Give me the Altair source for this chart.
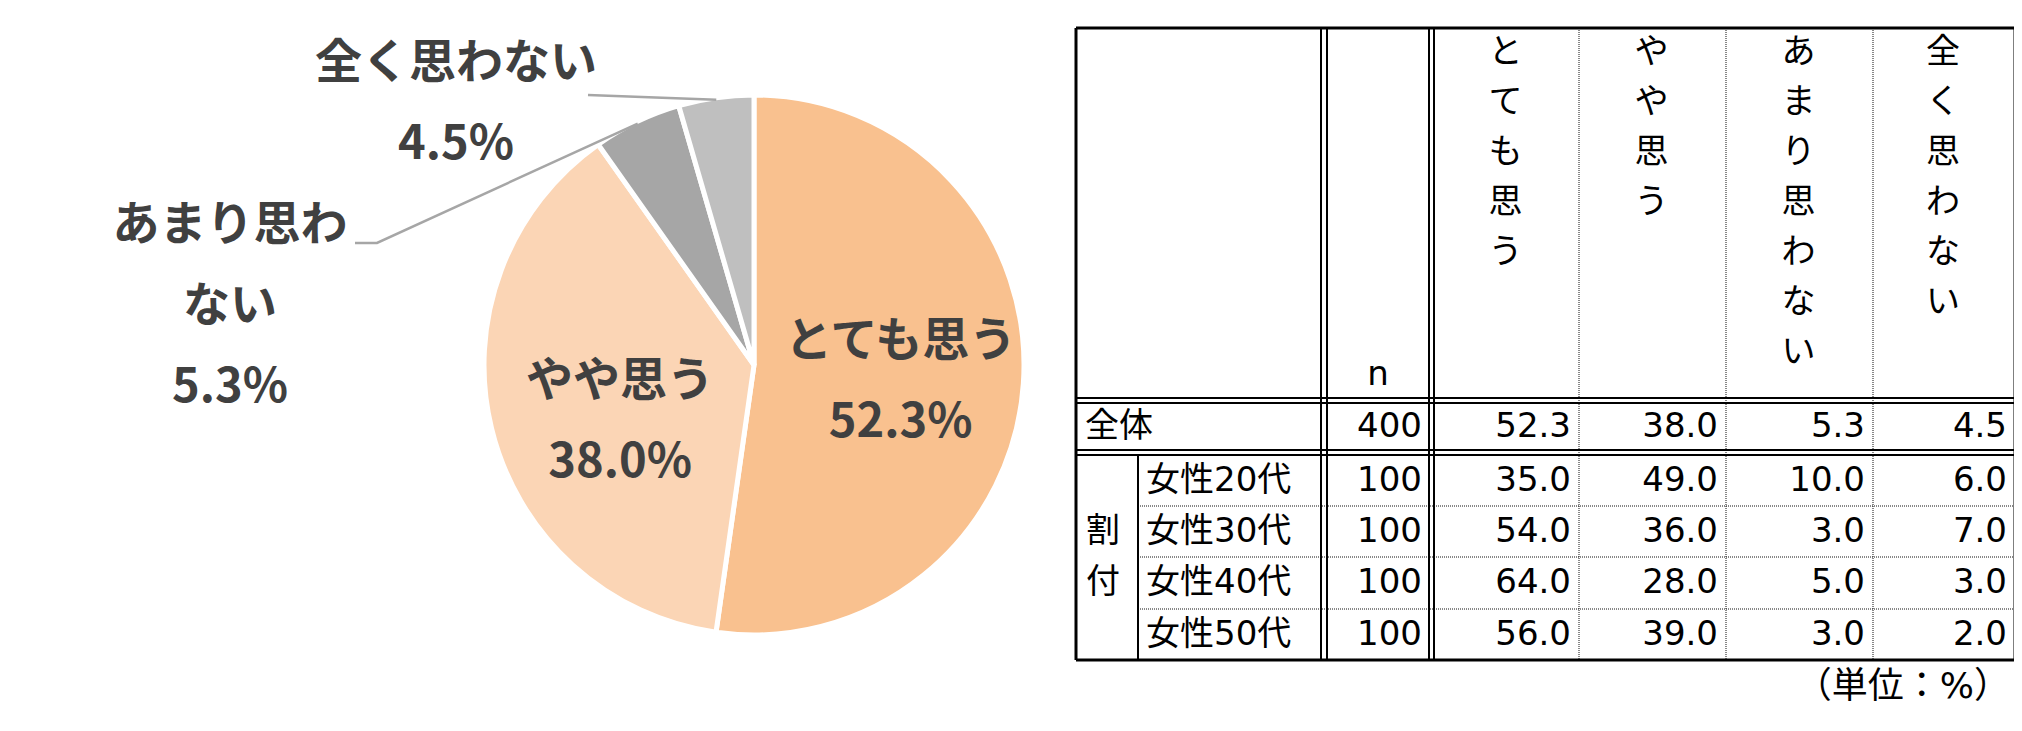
import math
import altair as alt
import pandas as pd

# ---------------- data ----------------
categories = ["とても思う", "やや思う", "あまり思わない", "全く思わない"]
row_labels = ["全体", "女性20代", "女性30代", "女性40代", "女性50代"]
n_values = [400, 100, 100, 100, 100]
totemo = [52.3, 35.0, 54.0, 64.0, 56.0]
yaya = [38.0, 49.0, 36.0, 28.0, 39.0]
amari = [5.3, 10.0, 3.0, 5.0, 3.0]
mattaku = [4.5, 6.0, 7.0, 3.0, 2.0]
group_label = "割付"
n_label = "n"
unit_label = "（単位：%）"

# ---------------- style / layout (screen pixels) ----------------
PAGE = 8
W, H = 2006, 715
CX, CY = 754, 365
R_ARC = 270
R_EDGE = 268
R_LABEL = 147
slice_colors = ["#F9C18F", "#FBD5B5", "#A6A6A6", "#BFBFBF"]
label_color = "#404040"
leader_color = "#A6A6A6"
PIE_FONT = "Noto Sans CJK JP"
TAB_FONT = "DejaVu Sans, Noto Sans CJK JP"
PIE_FS = 47
PIE_LH = 81
TAB_FS = 34

# nudges of the block centre relative to the slice mid-angle point
inside_nudge = {"とても思う": (0, 7), "やや思う": (9, 23)}
# block centres of the labels placed outside
outside_pos = {"全く思わない": (456, 104), "あまり思わない": (230, 307)}
label_wrap = {"あまり思わない": 5}
leader_start = {"全く思わない": [(588, 95)], "あまり思わない": [(355, 243), (377, 243)]}

T_L, T_R, T_T, T_B = 1076, 2015, 28, 660
COL_N = (1321, 1327)
COL_V = (1429, 1434)
GROUP_X = 1138
DOT_X = [1579, 1726, 1873]
HDR_D = (398, 403)
ALL_D = (450, 455)
GROUP_ROWS = [455, 506, 557, 609, 660]
HDR_Y0, HDR_STEP = 53, 50

xs = alt.Scale(domain=[PAGE, PAGE + W], range=[0, W], nice=False, zero=False)
ys = alt.Scale(domain=[PAGE, PAGE + H], range=[0, H], nice=False, zero=False)


def X(f="x"):
    return alt.X(f"{f}:Q", scale=xs, axis=None)


def Y(f="y"):
    return alt.Y(f"{f}:Q", scale=ys, axis=None)


def X2(f="x2"):
    return alt.X2(f"{f}:Q")


def Y2(f="y2"):
    return alt.Y2(f"{f}:Q")


# ---------------- pie ----------------
pie_values = [totemo[0], yaya[0], amari[0], mattaku[0]]


def wrap(cat):
    k = label_wrap.get(cat)
    return cat if k is None else cat[:k] + "\n" + cat[k:]


pie_df = pd.DataFrame({
    "cat": categories,
    "value": pie_values,
    "idx": list(range(len(categories))),
    "label": [f"{wrap(c)}\n{v:.1f}%" for c, v in zip(categories, pie_values)],
})


def first_line_offset(label):
    return -(label.count("\n")) * PIE_LH / 2


theta = alt.Theta("value:Q", stack=True)
order = alt.Order("idx:Q", sort="ascending")
cx_v, cy_v = alt.value(CX - PAGE), alt.value(CY - PAGE)

arc = alt.Chart(pie_df).mark_arc(
    outerRadius=R_ARC, stroke="white", strokeWidth=5
).encode(
    theta=theta, order=order,
    color=alt.Color("cat:N", scale=alt.Scale(domain=categories, range=slice_colors), legend=None),
    x=cx_v, y=cy_v,
)

layers = [arc]
for cat, (dx, dy) in inside_nudge.items():
    lab = pie_df.loc[categories.index(cat), "label"]
    layers.append(
        alt.Chart(pie_df).transform_calculate(
            t=f"datum.cat == '{cat}' ? datum.label : ''"
        ).mark_text(
            radius=R_LABEL, dx=dx, dy=dy + first_line_offset(lab), font=PIE_FONT, fontSize=PIE_FS,
            fontWeight="bold", color=label_color, lineBreak="\n", lineHeight=PIE_LH,
            align="center", baseline="middle",
        ).encode(theta=theta, order=order, text="t:N", x=cx_v, y=cy_v)
    )

# outside labels
out_rows = []
for cat, (lx, ly) in outside_pos.items():
    lab = pie_df.loc[categories.index(cat), "label"]
    out_rows.append({"x": lx, "y": ly + first_line_offset(lab), "t": lab})
layers.append(
    alt.Chart(pd.DataFrame(out_rows)).mark_text(
        font=PIE_FONT, fontSize=PIE_FS, fontWeight="bold", color=label_color,
        lineBreak="\n", lineHeight=PIE_LH, align="center", baseline="middle",
    ).encode(x=X(), y=Y(), text="t:N")
)

# leader lines: from label to slice edge at the slice's mid angle
total = sum(pie_values)
cum = 0.0
mids = {}
for c, v in zip(categories, pie_values):
    mids[c] = (cum + v / 2) / total * 2 * math.pi
    cum += v
lead_rows = []
for cat, pts in leader_start.items():
    a = mids[cat]
    allpts = pts + [(CX + R_EDGE * math.sin(a), CY - R_EDGE * math.cos(a))]
    for s, (px, py) in enumerate(allpts):
        lead_rows.append({"id": cat, "seq": s, "x": px, "y": py})
layers.append(
    alt.Chart(pd.DataFrame(lead_rows)).mark_line(color=leader_color, strokeWidth=2.5).encode(
        x=X(), y=Y(), detail="id:N", order="seq:Q"
    )
)

# ---------------- table ----------------
rules_thick = [
    (T_L, T_T, T_R, T_T), (T_L, T_B, T_R, T_B),
    (T_L, T_T, T_L, T_B), (T_R, T_T, T_R, T_B),
]
rules_mid = []
for xv in COL_N + COL_V:
    rules_mid.append((xv, T_T, xv, T_B))
for yv in HDR_D + ALL_D:
    rules_mid.append((T_L, yv, T_R, yv))
rules_mid.append((GROUP_X, ALL_D[1], GROUP_X, T_B))
rules_dot = [(xv, T_T, xv, T_B) for xv in DOT_X]
rules_dot += [(GROUP_X, yv, T_R, yv) for yv in GROUP_ROWS[1:-1]]


def rule_df(lst):
    return pd.DataFrame(lst, columns=["x", "y", "x2", "y2"])


layers.append(alt.Chart(rule_df(rules_dot)).mark_rule(color="#111111", strokeWidth=1, strokeDash=[1, 1]).encode(
    x=X(), y=Y(), x2=X2(), y2=Y2()))
layers.append(alt.Chart(rule_df(rules_mid)).mark_rule(color="black", strokeWidth=2).encode(
    x=X(), y=Y(), x2=X2(), y2=Y2()))
layers.append(alt.Chart(rule_df(rules_thick)).mark_rule(color="black", strokeWidth=3).encode(
    x=X(), y=Y(), x2=X2(), y2=Y2()))

# header vertical labels
val_lefts = [COL_V[1]] + DOT_X
val_rights = DOT_X + [T_R]
hdr_rows = []
for c, (l, r) in zip(categories, zip(val_lefts, val_rights)):
    for i, ch in enumerate(c):
        hdr_rows.append({"x": (l + r) / 2 - 1, "y": HDR_Y0 + HDR_STEP * i, "t": ch})
tab_text = dict(font=TAB_FONT, fontSize=TAB_FS, color="black")
layers.append(alt.Chart(pd.DataFrame(hdr_rows)).mark_text(align="center", baseline="middle", **tab_text).encode(
    x=X(), y=Y(), text="t:N"))
layers.append(alt.Chart(pd.DataFrame([{"x": (COL_N[1] + COL_V[0]) / 2, "y": 385, "t": n_label}])).mark_text(
    align="center", baseline="alphabetic", **tab_text).encode(x=X(), y=Y(), text="t:N"))

# row labels
row_centers = [(HDR_D[1] + ALL_D[0]) / 2] + [(GROUP_ROWS[i] + GROUP_ROWS[i + 1]) / 2 for i in range(4)]
rl_rows = [{"x": 1085 if i == 0 else 1146, "y": row_centers[i], "t": lab} for i, lab in enumerate(row_labels)]
gy = (GROUP_ROWS[0] + GROUP_ROWS[-1]) / 2
for i, ch in enumerate(group_label):
    rl_rows.append({"x": 1103, "y": gy + (i - (len(group_label) - 1) / 2) * 51, "t": ch})
rl_df = pd.DataFrame(rl_rows)
rl_df["al"] = ["left"] * len(row_labels) + ["center"] * len(group_label)
layers.append(alt.Chart(rl_df[rl_df.al == "left"]).mark_text(align="left", baseline="middle", **tab_text).encode(
    x=X(), y=Y(), text="t:N"))
layers.append(alt.Chart(rl_df[rl_df.al == "center"]).mark_text(align="center", baseline="middle", **tab_text).encode(
    x=X(), y=Y(), text="t:N"))

# values
val_rows = []
for r in range(len(row_labels)):
    val_rows.append({"x": COL_V[0] - 7, "y": row_centers[r], "t": str(n_values[r])})
    for ci, series in enumerate([totemo, yaya, amari, mattaku]):
        val_rows.append({"x": val_rights[ci] - 8, "y": row_centers[r], "t": f"{series[r]:.1f}"})
layers.append(alt.Chart(pd.DataFrame(val_rows)).mark_text(align="right", baseline="middle", **tab_text).encode(
    x=X(), y=Y(), text="t:N"))

# unit note
layers.append(alt.Chart(pd.DataFrame([{"x": 2010, "y": 687, "t": unit_label}])).mark_text(
    align="right", baseline="middle", font=TAB_FONT, fontSize=36, color="black").encode(
    x=X(), y=Y(), text="t:N"))

chart = alt.layer(*layers).properties(
    width=W, height=H, autosize=alt.AutoSizeParams(type="none"), padding=0, background="white"
).configure_view(strokeWidth=0)

chart.save("out.html", embed_options={"renderer": "svg", "actions": False})
